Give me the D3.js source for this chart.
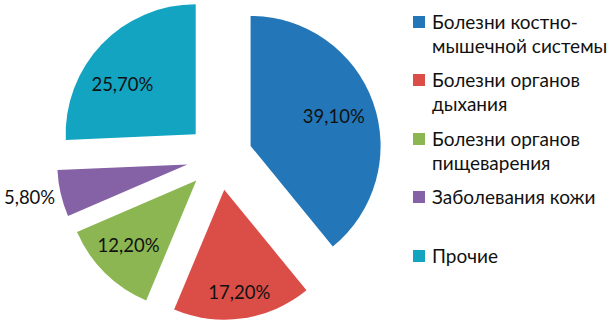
<!DOCTYPE html>
<html><head><meta charset="utf-8">
<script src="https://cdn.jsdelivr.net/npm/d3@7"></script>
<style>body{margin:0;background:#fff}svg{display:block}text{font-family:Lato,"Open Sans",sans-serif}</style>
</head><body>
<svg id="c" width="608" height="326"></svg>
<script>
const categories = ["Болезни костно-мышечной системы","Болезни органов дыхания","Болезни органов пищеварения","Заболевания кожи","Прочие"];
const legendLines = [["Болезни костно-","мышечной системы"],["Болезни органов","дыхания"],["Болезни органов","пищеварения"],["Заболевания кожи"],["Прочие"]];
const values = [39.1, 17.2, 12.2, 5.8, 25.7];
const labels = ["39,10%","17,20%","12,20%","5,80%","25,70%"];
const colors = ["#2377b8","#db4e48","#8cb652","#8462a5","#12a4c1"];

const svg = d3.select("#c");
const cx = 219.5, cy = 157, R = 130, explode = 33;
const pie = d3.pie().sort(null).value(d => d)(values);
const arc = d3.arc().innerRadius(0).outerRadius(R);
// label distance from slice apex (fraction of R) and angular tweak
const labelDist = [0.68, 0.80, 0.72, 1.24, 0.68];
const labelTweak = [0, 0, 0.03, 0.02, -0.17];
const g = svg.append("g").attr("transform", `translate(${cx},${cy})`);
pie.forEach((p, i) => {
  const mid = (p.startAngle + p.endAngle) / 2;
  const ox = Math.sin(mid) * explode, oy = -Math.cos(mid) * explode;
  const sg = g.append("g").attr("transform", `translate(${ox},${oy})`);
  sg.append("path").attr("d", arc(p)).attr("fill", colors[i]);
  const la = mid + labelTweak[i], lr = labelDist[i] * R;
  sg.append("text").attr("x", Math.sin(la) * lr).attr("y", -Math.cos(la) * lr)
    .attr("text-anchor", "middle").attr("dy", "0.35em")
    .attr("font-size", 18.5).attr("fill", "#111").text(labels[i]);
});
const lg = svg.append("g").attr("transform", "translate(413,0)");
const entryY = [22, 80, 139, 197, 256];
legendLines.forEach((lines, i) => {
  lg.append("rect").attr("x", 0).attr("y", entryY[i] - 6).attr("width", 12).attr("height", 12).attr("fill", colors[i]);
  lines.forEach((t, j) => {
    lg.append("text").attr("x", 19).attr("y", entryY[i] + j * 24).attr("dy", "0.35em")
      .attr("font-size", 19).attr("fill", "#111").text(t);
  });
});
</script>
</body></html>
